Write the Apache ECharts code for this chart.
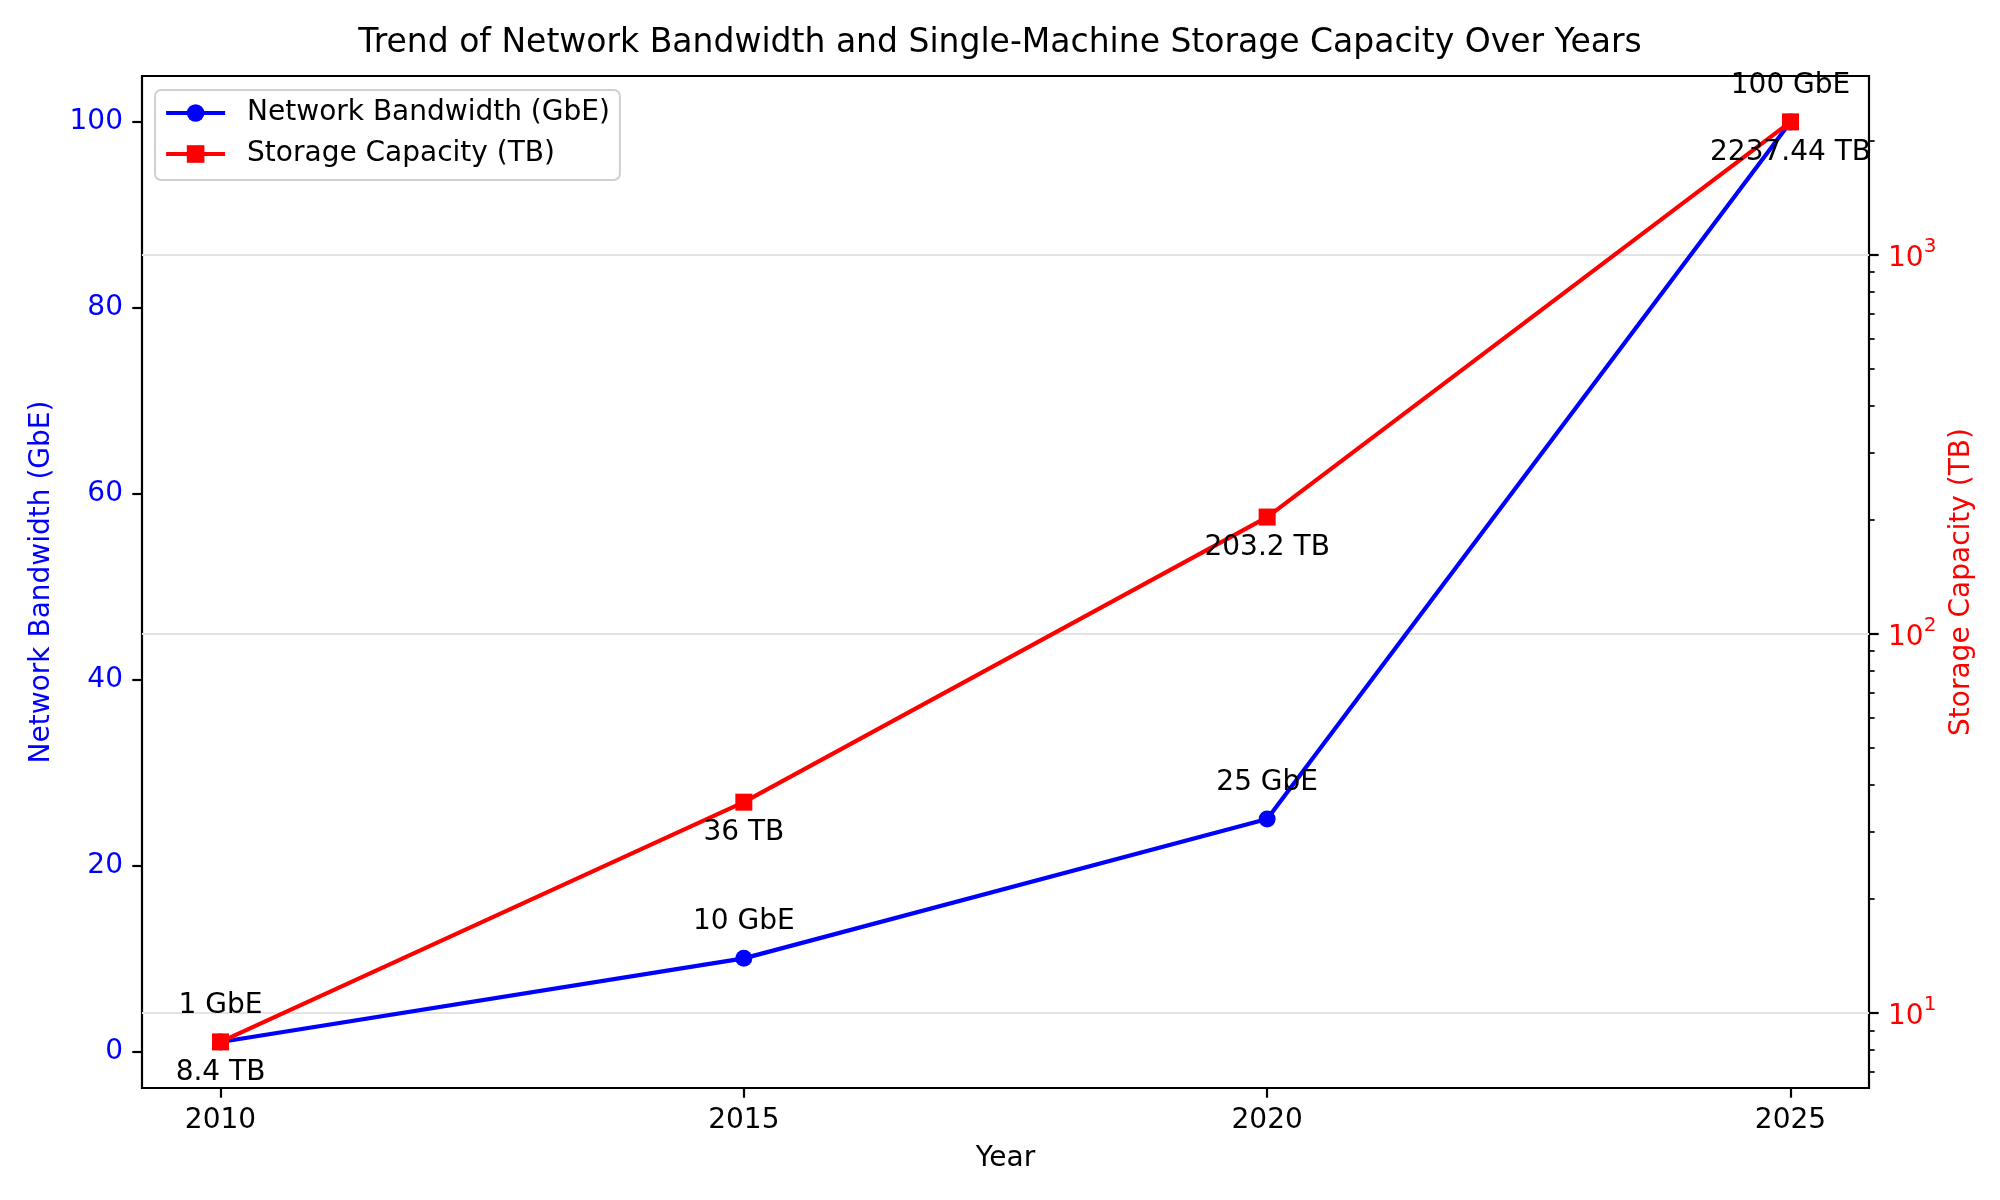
<!DOCTYPE html>
<html>
<head>
<meta charset="utf-8">
<script src="https://cdn.jsdelivr.net/npm/echarts@6/dist/echarts.min.js"></script>
<style>html,body{margin:0;padding:0;background:#fff;}#chart{width:2000px;height:1200px;}</style>
</head>
<body>
<div id="chart"></div>
<script>
const years = [2010, 2015, 2020, 2025];
const bandwidth = [1, 10, 25, 100];
const storage = [8.4, 36, 203.2, 2237.44];
const yearTicks = [2010, 2015, 2020, 2025];
const bandwidthTicks = [0, 20, 40, 60, 80, 100];
const storageTicks = [10, 100, 1000];
const storageMinorTicks = [7, 8, 9, 20, 30, 40, 50, 60, 70, 80, 90, 200, 300, 400, 500, 600, 700, 800, 900, 2000];

const FONT = 'DejaVu Sans';
const chart = echarts.init(document.getElementById('chart'), null, {renderer: 'canvas'});
chart.setOption({
  animation: false,
  backgroundColor: '#ffffff',
  textStyle: {fontFamily: FONT},
  title: {
    text: 'Trend of Network Bandwidth and Single-Machine Storage Capacity Over Years',
    left: 'center', top: 27, padding: [0, 0, 0, 11],
    textStyle: {fontFamily: FONT, fontSize: 33, fontWeight: 'normal', color: '#000'}
  },
  grid: {left: 142, right: 131, top: 76, bottom: 112, show: true, borderColor: '#000', borderWidth: 2.2, backgroundColor: 'transparent'},
  legend: {
    orient: 'vertical', left: 155, top: 90,
    padding: [9, 10, 12, 9], itemGap: 13, itemWidth: 59, itemHeight: 22,
    backgroundColor: 'rgba(255,255,255,0.8)', borderColor: '#d0d0d0', borderWidth: 2, borderRadius: 6,
    textStyle: {fontFamily: FONT, fontSize: 28, color: '#000', lineHeight: 28, padding: [0, 0, 0, 17]},
    data: [
      {name: 'Network Bandwidth (GbE)', lineStyle: {width: 4.2, color: '#0000ff'}},
      {name: 'Storage Capacity (TB)', lineStyle: {width: 4.2, color: '#ff0000'}}
    ]
  },
  xAxis: {
    type: 'value', min: 2009.25, max: 2025.75,
    name: 'Year', nameLocation: 'middle', nameGap: 57,
    nameTextStyle: {fontFamily: FONT, fontSize: 28, color: '#000'},
    axisLine: {show: false, onZero: false},
    axisTick: {show: true, length: 9.7, lineStyle: {color: '#000', width: 2.2}, customValues: yearTicks},
    axisLabel: {fontFamily: FONT, fontSize: 28, color: '#000', margin: 19, customValues: yearTicks, formatter: v => String(v)},
    splitLine: {show: false}
  },
  yAxis: [
    {
      type: 'value', min: -3.95, max: 104.95, position: 'left',
      name: 'Network Bandwidth (GbE)', nameLocation: 'middle', nameGap: 86, nameRotate: 90,
      nameTextStyle: {fontFamily: FONT, fontSize: 28, color: '#0000ff'},
      axisLine: {show: false, onZero: false},
      axisTick: {show: true, length: 9.7, lineStyle: {color: '#000', width: 2.2}, customValues: bandwidthTicks},
      axisLabel: {fontFamily: FONT, fontSize: 28, color: '#0000ff', margin: 19, customValues: bandwidthTicks, formatter: v => String(v)},
      splitLine: {show: false}
    },
    {
      type: 'log', logBase: 10, min: 6.35, max: 2956, position: 'right',
      name: 'Storage Capacity (TB)', nameLocation: 'middle', nameGap: 78, nameRotate: 90,
      nameTextStyle: {fontFamily: FONT, fontSize: 28, color: '#ff0000'},
      axisLine: {show: false, onZero: false},
      axisTick: {show: true, length: 9.7, lineStyle: {color: '#000', width: 2.2}, customValues: storageTicks},
      axisLabel: {
        color: '#ff0000', margin: 19, customValues: storageTicks,
        formatter: v => '{b|10}{s|' + Math.round(Math.log10(v)) + '}',
        rich: {
          b: {fontFamily: FONT, fontSize: 28, color: '#ff0000', lineHeight: 36, verticalAlign: 'bottom'},
          s: {fontFamily: FONT, fontSize: 20, color: '#ff0000', lineHeight: 20, verticalAlign: 'top'}
        }
      },
      splitLine: {show: true, lineStyle: {color: '#e3e3e3', width: 2}}
    },
    {
      type: 'log', logBase: 10, min: 6.35, max: 2956, position: 'right',
      axisLine: {show: false, onZero: false},
      axisTick: {show: true, length: 5.6, lineStyle: {color: '#000', width: 1.7}, customValues: storageMinorTicks},
      axisLabel: {show: false},
      splitLine: {show: false}
    }
  ],
  series: [
    {
      name: 'Network Bandwidth (GbE)', type: 'line', xAxisIndex: 0, yAxisIndex: 0,
      data: years.map((y, i) => [y, bandwidth[i]]),
      symbol: 'circle', symbolSize: 17,
      lineStyle: {color: '#0000ff', width: 4.2},
      itemStyle: {color: '#0000ff'},
      label: {show: true, position: 'top', distance: 14, fontFamily: FONT, fontSize: 28, color: '#000', lineHeight: 28,
        formatter: p => p.value[1] + ' GbE'},
      z: 2
    },
    {
      name: 'Storage Capacity (TB)', type: 'line', xAxisIndex: 0, yAxisIndex: 1,
      data: years.map((y, i) => [y, storage[i]]),
      symbol: 'rect', symbolSize: 17,
      lineStyle: {color: '#ff0000', width: 4.2},
      itemStyle: {color: '#ff0000'},
      label: {show: true, position: 'bottom', distance: 8, fontFamily: FONT, fontSize: 28, color: '#000', lineHeight: 28,
        formatter: p => p.value[1] + ' TB'},
      z: 3
    }
  ]
});
</script>
</body>
</html>
